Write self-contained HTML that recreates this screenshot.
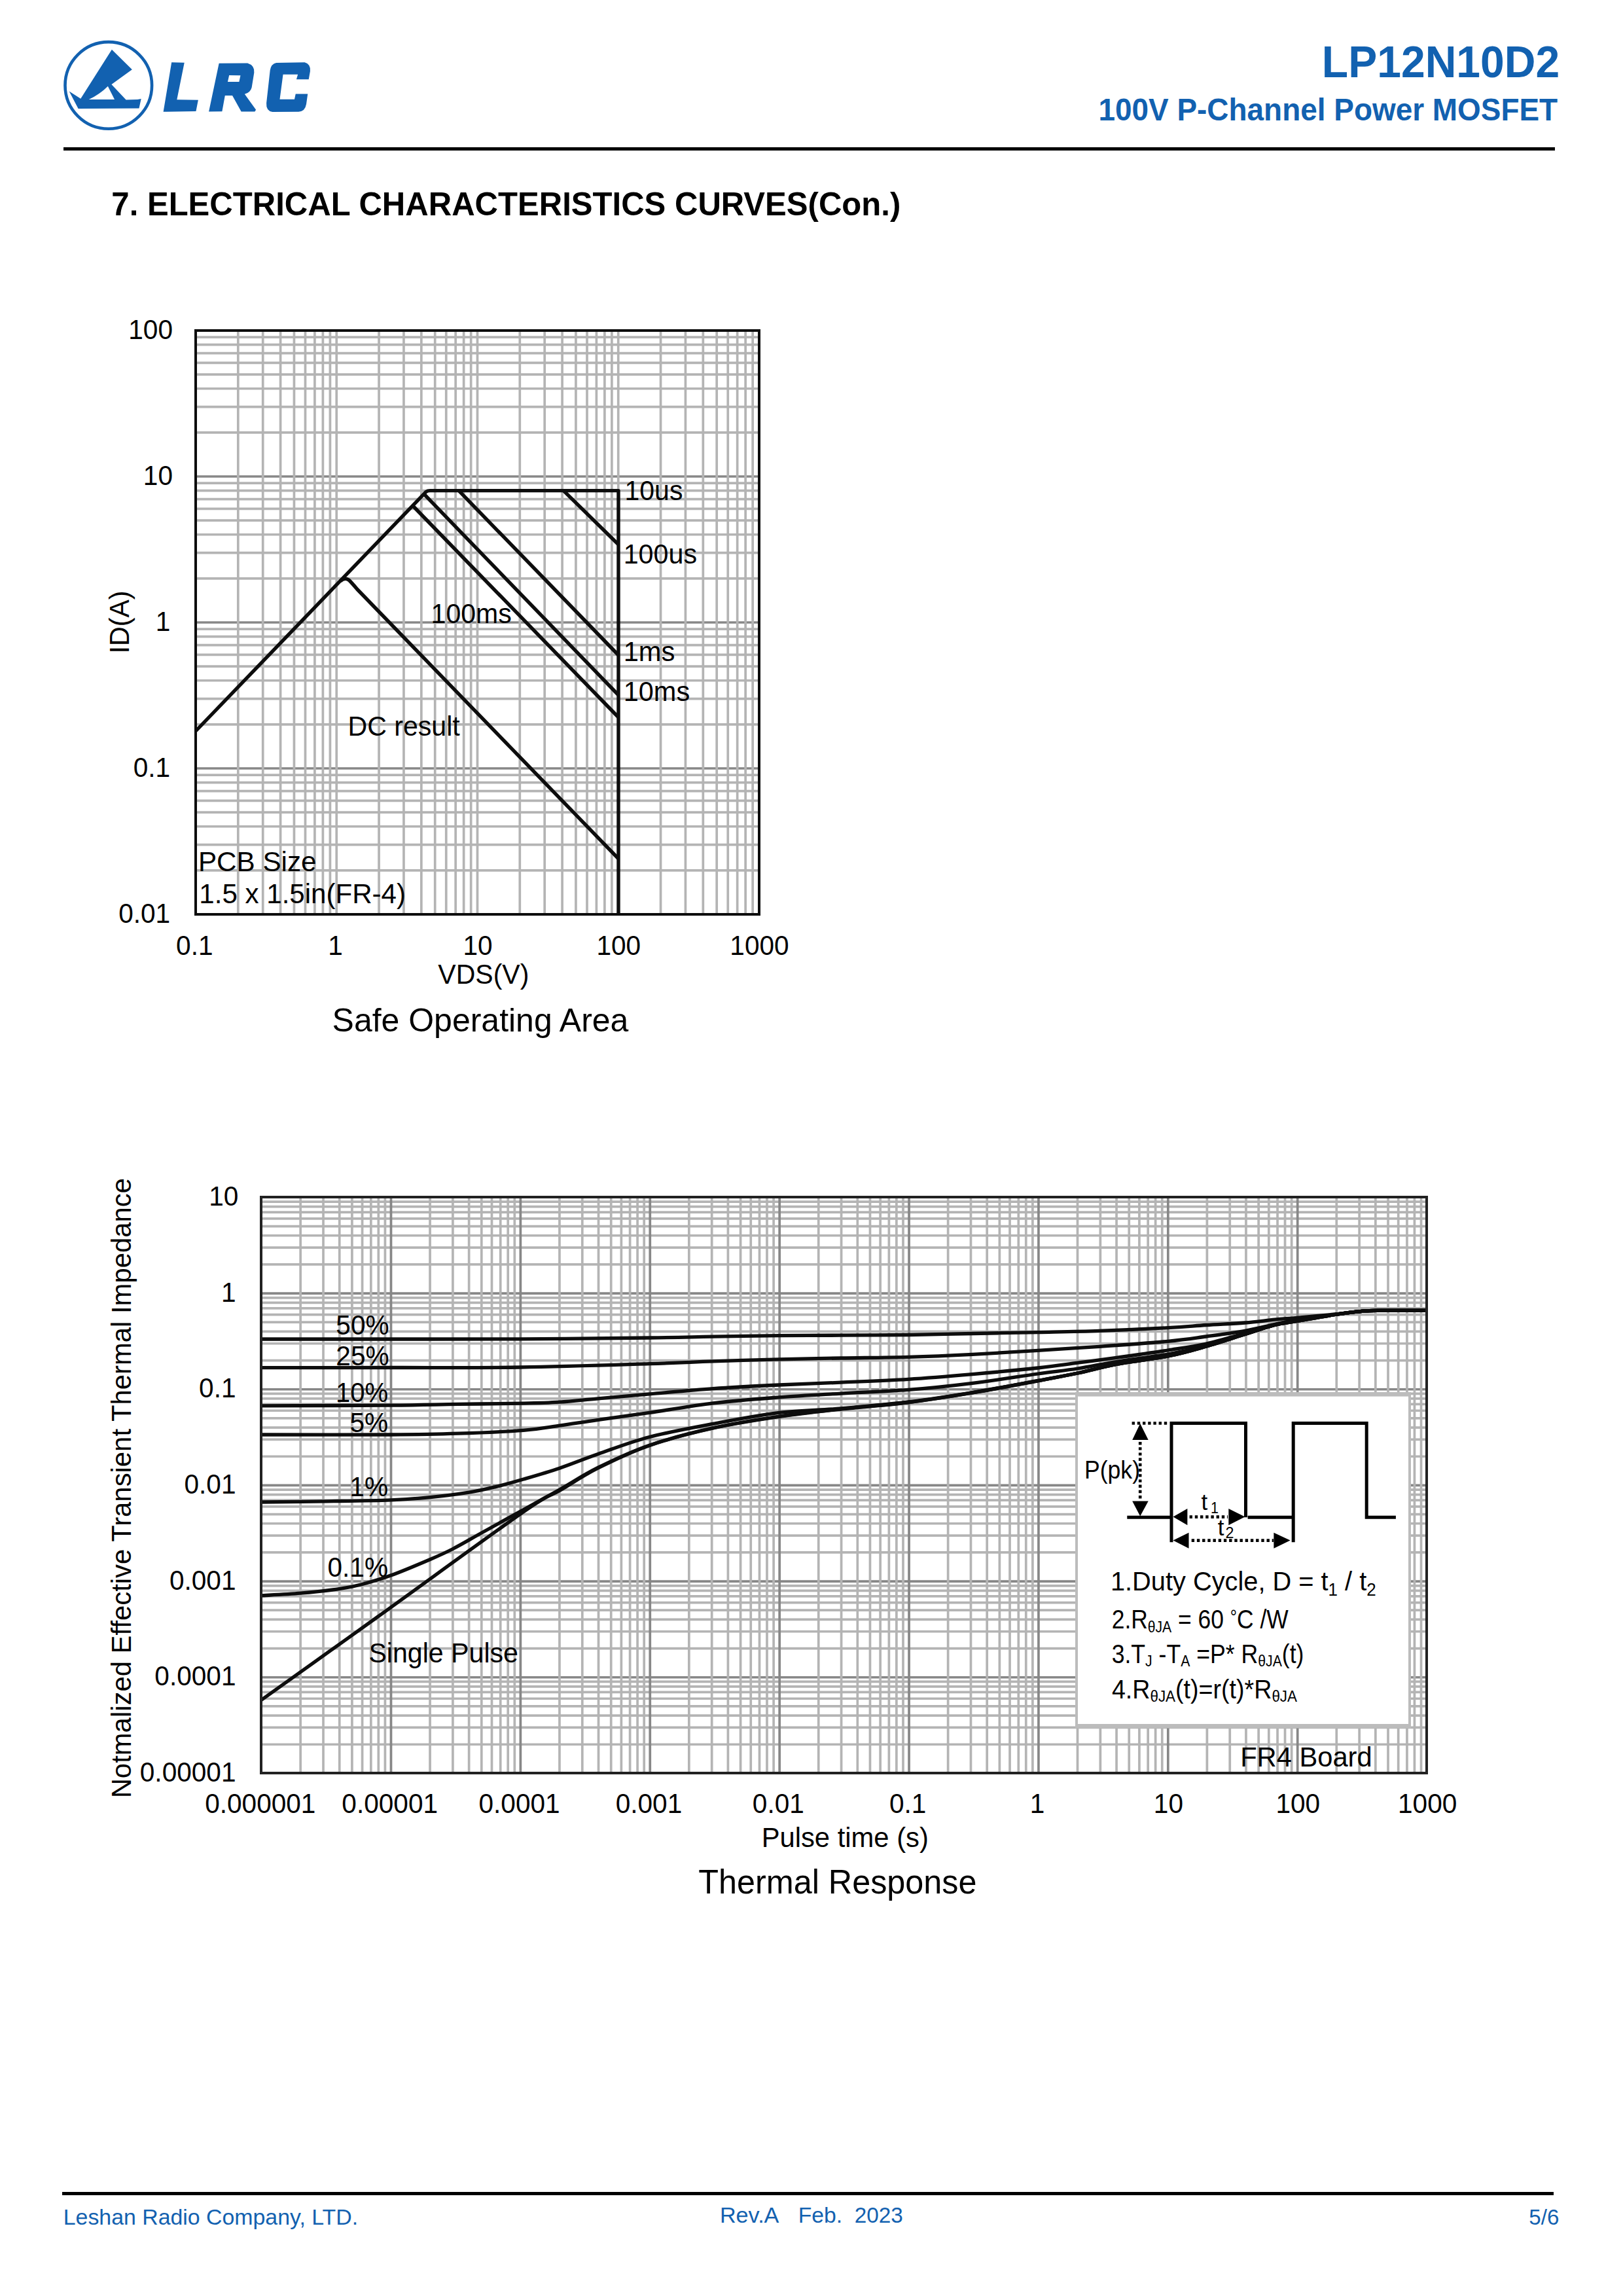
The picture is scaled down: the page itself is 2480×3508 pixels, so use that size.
<!DOCTYPE html><html><head><meta charset="utf-8"><style>html,body{margin:0;padding:0;background:#fff;}svg{display:block;}text{font-family:"Liberation Sans",sans-serif;}</style></head><body>
<svg width="2480" height="3508" viewBox="0 0 2480 3508">
<rect width="2480" height="3508" fill="#fff"/>
<circle cx="165.8" cy="130.4" r="66.3" fill="none" stroke="#1261b0" stroke-width="4.6"/>
<g transform="translate(90 55) scale(0.09242)" fill="#1261b0">
<path fill-rule="evenodd" d="M875 225 L1210 555 L870 800 L1110 1055 L1300 1050 L1360 1040 L1325 1195 L320 1200 L170 915 L360 1035 Z M495 1050 Q680 960 810 830 L920 1050 Z"/>
</g>
<g transform="translate(240 85) scale(0.14787)" fill="#1261b0">
<path d="M150 70 L282 72 L205 455 L425 458 L402 575 L65 580 Z"/>
<path fill-rule="evenodd" d="M640 80 L935 78 Q1008 100 1003 175 L978 330 Q965 382 905 398 L1022 560 L1010 578 L870 578 L778 412 L702 412 L672 576 L535 578 Z M745 203 L862 205 L848 270 L730 270 Z"/>
<path d="M1232 75 L1525 70 Q1588 88 1582 160 L1567 245 L1440 245 L1455 195 L1302 195 L1268 452 L1420 452 L1432 395 L1557 395 L1542 500 Q1530 575 1462 580 L1192 582 Q1125 570 1130 490 L1168 150 Q1180 85 1232 75 Z"/>
</g>
<rect x="97" y="225" width="2279" height="5" fill="#000"/>
<g stroke-width="3.7" fill="none"><path d="M299 1329.87H1160" stroke="#b4b4b4"/><path d="M299 1290.6H1160" stroke="#b4b4b4"/><path d="M299 1262.74H1160" stroke="#b4b4b4"/><path d="M299 1241.13H1160" stroke="#b4b4b4"/><path d="M299 1223.47H1160" stroke="#b4b4b4"/><path d="M299 1208.54H1160" stroke="#b4b4b4"/><path d="M299 1195.61H1160" stroke="#b4b4b4"/><path d="M299 1184.2H1160" stroke="#b4b4b4"/><path d="M299 1174H1160" stroke="#878787"/><path d="M299 1106.87H1160" stroke="#b4b4b4"/><path d="M299 1067.6H1160" stroke="#b4b4b4"/><path d="M299 1039.74H1160" stroke="#b4b4b4"/><path d="M299 1018.13H1160" stroke="#b4b4b4"/><path d="M299 1000.47H1160" stroke="#b4b4b4"/><path d="M299 985.54H1160" stroke="#b4b4b4"/><path d="M299 972.61H1160" stroke="#b4b4b4"/><path d="M299 961.2H1160" stroke="#b4b4b4"/><path d="M299 951H1160" stroke="#878787"/><path d="M299 883.87H1160" stroke="#b4b4b4"/><path d="M299 844.6H1160" stroke="#b4b4b4"/><path d="M299 816.74H1160" stroke="#b4b4b4"/><path d="M299 795.13H1160" stroke="#b4b4b4"/><path d="M299 777.47H1160" stroke="#b4b4b4"/><path d="M299 762.54H1160" stroke="#b4b4b4"/><path d="M299 749.61H1160" stroke="#b4b4b4"/><path d="M299 738.2H1160" stroke="#b4b4b4"/><path d="M299 728H1160" stroke="#878787"/><path d="M299 660.87H1160" stroke="#b4b4b4"/><path d="M299 621.6H1160" stroke="#b4b4b4"/><path d="M299 593.74H1160" stroke="#b4b4b4"/><path d="M299 572.13H1160" stroke="#b4b4b4"/><path d="M299 554.47H1160" stroke="#b4b4b4"/><path d="M299 539.54H1160" stroke="#b4b4b4"/><path d="M299 526.61H1160" stroke="#b4b4b4"/><path d="M299 515.2H1160" stroke="#b4b4b4"/></g>
<g stroke-width="3.7" stroke="#b4b4b4" fill="none"><path d="M363.8 505V1397"/><path d="M401.7 505V1397"/><path d="M428.59 505V1397"/><path d="M449.45 505V1397"/><path d="M466.5 505V1397"/><path d="M480.91 505V1397"/><path d="M493.39 505V1397"/><path d="M504.4 505V1397"/><path d="M514.25 505V1397"/><path d="M579.05 505V1397"/><path d="M616.95 505V1397"/><path d="M643.84 505V1397"/><path d="M664.7 505V1397"/><path d="M681.75 505V1397"/><path d="M696.16 505V1397"/><path d="M708.64 505V1397"/><path d="M719.65 505V1397"/><path d="M729.5 505V1397"/><path d="M794.3 505V1397"/><path d="M832.2 505V1397"/><path d="M859.09 505V1397"/><path d="M879.95 505V1397"/><path d="M897 505V1397"/><path d="M911.41 505V1397"/><path d="M923.89 505V1397"/><path d="M934.9 505V1397"/><path d="M944.75 505V1397"/><path d="M1009.55 505V1397"/><path d="M1047.45 505V1397"/><path d="M1074.34 505V1397"/><path d="M1095.2 505V1397"/><path d="M1112.25 505V1397"/><path d="M1126.66 505V1397"/><path d="M1139.14 505V1397"/><path d="M1150.15 505V1397"/></g>
<rect x="299" y="505" width="861" height="892" fill="none" stroke="#0d0d0d" stroke-width="4"/>
<path fill="none" stroke="#0d0d0d" stroke-width="5.4" stroke-linejoin="round" d="M299 1117 L651 751.4 Q653.5 749.6 657 749.6 L945 749.6 L945 1397"/>
<path fill="none" stroke="#0d0d0d" stroke-width="5.4" stroke-linejoin="round" d="M861 749.6 L945 832"/>
<path fill="none" stroke="#0d0d0d" stroke-width="5.4" stroke-linejoin="round" d="M701 749.6 L945 1001"/>
<path fill="none" stroke="#0d0d0d" stroke-width="5.4" stroke-linejoin="round" d="M649 756 L945 1062"/>
<path fill="none" stroke="#0d0d0d" stroke-width="5.4" stroke-linejoin="round" d="M632 774 L945 1096"/>
<path fill="none" stroke="#0d0d0d" stroke-width="5.4" stroke-linejoin="round" d="M520 888 Q527 881.5 533.5 886.5 Q538 891 546 900.5 L945 1312"/>
<g stroke-width="3.7" fill="none"><path d="M399 2665.25H2180" stroke="#b4b4b4"/><path d="M399 2639.42H2180" stroke="#b4b4b4"/><path d="M399 2621.1H2180" stroke="#b4b4b4"/><path d="M399 2606.88H2180" stroke="#b4b4b4"/><path d="M399 2595.27H2180" stroke="#b4b4b4"/><path d="M399 2585.45H2180" stroke="#b4b4b4"/><path d="M399 2576.95H2180" stroke="#b4b4b4"/><path d="M399 2569.44H2180" stroke="#b4b4b4"/><path d="M399 2562.73H2180" stroke="#878787"/><path d="M399 2518.58H2180" stroke="#b4b4b4"/><path d="M399 2492.76H2180" stroke="#b4b4b4"/><path d="M399 2474.43H2180" stroke="#b4b4b4"/><path d="M399 2460.22H2180" stroke="#b4b4b4"/><path d="M399 2448.6H2180" stroke="#b4b4b4"/><path d="M399 2438.79H2180" stroke="#b4b4b4"/><path d="M399 2430.28H2180" stroke="#b4b4b4"/><path d="M399 2422.78H2180" stroke="#b4b4b4"/><path d="M399 2416.07H2180" stroke="#878787"/><path d="M399 2371.92H2180" stroke="#b4b4b4"/><path d="M399 2346.09H2180" stroke="#b4b4b4"/><path d="M399 2327.76H2180" stroke="#b4b4b4"/><path d="M399 2313.55H2180" stroke="#b4b4b4"/><path d="M399 2301.94H2180" stroke="#b4b4b4"/><path d="M399 2292.12H2180" stroke="#b4b4b4"/><path d="M399 2283.61H2180" stroke="#b4b4b4"/><path d="M399 2276.11H2180" stroke="#b4b4b4"/><path d="M399 2269.4H2180" stroke="#878787"/><path d="M399 2225.25H2180" stroke="#b4b4b4"/><path d="M399 2199.42H2180" stroke="#b4b4b4"/><path d="M399 2181.1H2180" stroke="#b4b4b4"/><path d="M399 2166.88H2180" stroke="#b4b4b4"/><path d="M399 2155.27H2180" stroke="#b4b4b4"/><path d="M399 2145.45H2180" stroke="#b4b4b4"/><path d="M399 2136.95H2180" stroke="#b4b4b4"/><path d="M399 2129.44H2180" stroke="#b4b4b4"/><path d="M399 2122.73H2180" stroke="#878787"/><path d="M399 2078.58H2180" stroke="#b4b4b4"/><path d="M399 2052.76H2180" stroke="#b4b4b4"/><path d="M399 2034.43H2180" stroke="#b4b4b4"/><path d="M399 2020.22H2180" stroke="#b4b4b4"/><path d="M399 2008.6H2180" stroke="#b4b4b4"/><path d="M399 1998.79H2180" stroke="#b4b4b4"/><path d="M399 1990.28H2180" stroke="#b4b4b4"/><path d="M399 1982.78H2180" stroke="#b4b4b4"/><path d="M399 1976.07H2180" stroke="#878787"/><path d="M399 1931.92H2180" stroke="#b4b4b4"/><path d="M399 1906.09H2180" stroke="#b4b4b4"/><path d="M399 1887.76H2180" stroke="#b4b4b4"/><path d="M399 1873.55H2180" stroke="#b4b4b4"/><path d="M399 1861.94H2180" stroke="#b4b4b4"/><path d="M399 1852.12H2180" stroke="#b4b4b4"/><path d="M399 1843.61H2180" stroke="#b4b4b4"/><path d="M399 1836.11H2180" stroke="#b4b4b4"/></g>
<g stroke-width="3.7" fill="none"><path d="M459.17 1829V2709" stroke="#b4b4b4"/><path d="M494.02 1829V2709" stroke="#b4b4b4"/><path d="M518.74 1829V2709" stroke="#b4b4b4"/><path d="M537.92 1829V2709" stroke="#b4b4b4"/><path d="M553.59 1829V2709" stroke="#b4b4b4"/><path d="M566.84 1829V2709" stroke="#b4b4b4"/><path d="M578.31 1829V2709" stroke="#b4b4b4"/><path d="M588.43 1829V2709" stroke="#b4b4b4"/><path d="M597.49 1829V2709" stroke="#878787"/><path d="M657.06 1829V2709" stroke="#b4b4b4"/><path d="M691.91 1829V2709" stroke="#b4b4b4"/><path d="M716.63 1829V2709" stroke="#b4b4b4"/><path d="M735.81 1829V2709" stroke="#b4b4b4"/><path d="M751.48 1829V2709" stroke="#b4b4b4"/><path d="M764.72 1829V2709" stroke="#b4b4b4"/><path d="M776.2 1829V2709" stroke="#b4b4b4"/><path d="M786.32 1829V2709" stroke="#b4b4b4"/><path d="M795.38 1829V2709" stroke="#878787"/><path d="M854.95 1829V2709" stroke="#b4b4b4"/><path d="M889.79 1829V2709" stroke="#b4b4b4"/><path d="M914.52 1829V2709" stroke="#b4b4b4"/><path d="M933.7 1829V2709" stroke="#b4b4b4"/><path d="M949.37 1829V2709" stroke="#b4b4b4"/><path d="M962.61 1829V2709" stroke="#b4b4b4"/><path d="M974.09 1829V2709" stroke="#b4b4b4"/><path d="M984.21 1829V2709" stroke="#b4b4b4"/><path d="M993.27 1829V2709" stroke="#878787"/><path d="M1052.84 1829V2709" stroke="#b4b4b4"/><path d="M1087.68 1829V2709" stroke="#b4b4b4"/><path d="M1112.41 1829V2709" stroke="#b4b4b4"/><path d="M1131.59 1829V2709" stroke="#b4b4b4"/><path d="M1147.25 1829V2709" stroke="#b4b4b4"/><path d="M1160.5 1829V2709" stroke="#b4b4b4"/><path d="M1171.98 1829V2709" stroke="#b4b4b4"/><path d="M1182.1 1829V2709" stroke="#b4b4b4"/><path d="M1191.16 1829V2709" stroke="#878787"/><path d="M1250.73 1829V2709" stroke="#b4b4b4"/><path d="M1285.57 1829V2709" stroke="#b4b4b4"/><path d="M1310.3 1829V2709" stroke="#b4b4b4"/><path d="M1329.47 1829V2709" stroke="#b4b4b4"/><path d="M1345.14 1829V2709" stroke="#b4b4b4"/><path d="M1358.39 1829V2709" stroke="#b4b4b4"/><path d="M1369.87 1829V2709" stroke="#b4b4b4"/><path d="M1379.99 1829V2709" stroke="#b4b4b4"/><path d="M1389.04 1829V2709" stroke="#878787"/><path d="M1448.61 1829V2709" stroke="#b4b4b4"/><path d="M1483.46 1829V2709" stroke="#b4b4b4"/><path d="M1508.19 1829V2709" stroke="#b4b4b4"/><path d="M1527.36 1829V2709" stroke="#b4b4b4"/><path d="M1543.03 1829V2709" stroke="#b4b4b4"/><path d="M1556.28 1829V2709" stroke="#b4b4b4"/><path d="M1567.76 1829V2709" stroke="#b4b4b4"/><path d="M1577.88 1829V2709" stroke="#b4b4b4"/><path d="M1586.93 1829V2709" stroke="#878787"/><path d="M1646.5 1829V2709" stroke="#b4b4b4"/><path d="M1681.35 1829V2709" stroke="#b4b4b4"/><path d="M1706.07 1829V2709" stroke="#b4b4b4"/><path d="M1725.25 1829V2709" stroke="#b4b4b4"/><path d="M1740.92 1829V2709" stroke="#b4b4b4"/><path d="M1754.17 1829V2709" stroke="#b4b4b4"/><path d="M1765.64 1829V2709" stroke="#b4b4b4"/><path d="M1775.77 1829V2709" stroke="#b4b4b4"/><path d="M1784.82 1829V2709" stroke="#878787"/><path d="M1844.39 1829V2709" stroke="#b4b4b4"/><path d="M1879.24 1829V2709" stroke="#b4b4b4"/><path d="M1903.96 1829V2709" stroke="#b4b4b4"/><path d="M1923.14 1829V2709" stroke="#b4b4b4"/><path d="M1938.81 1829V2709" stroke="#b4b4b4"/><path d="M1952.06 1829V2709" stroke="#b4b4b4"/><path d="M1963.53 1829V2709" stroke="#b4b4b4"/><path d="M1973.66 1829V2709" stroke="#b4b4b4"/><path d="M1982.71 1829V2709" stroke="#878787"/><path d="M2042.28 1829V2709" stroke="#b4b4b4"/><path d="M2077.13 1829V2709" stroke="#b4b4b4"/><path d="M2101.85 1829V2709" stroke="#b4b4b4"/><path d="M2121.03 1829V2709" stroke="#b4b4b4"/><path d="M2136.7 1829V2709" stroke="#b4b4b4"/><path d="M2149.95 1829V2709" stroke="#b4b4b4"/><path d="M2161.42 1829V2709" stroke="#b4b4b4"/><path d="M2171.55 1829V2709" stroke="#b4b4b4"/></g>
<path fill="none" stroke="#0d0d0d" stroke-width="5.3" stroke-linejoin="round" d="M399 2046 C432 2046 531 2046.03 597 2046 C663 2045.97 729.08 2046.13 795 2045.8 C860.92 2045.47 943.37 2044.6 992.5 2044 C1041.63 2043.4 1056.75 2042.75 1089.8 2042.2 C1122.85 2041.65 1158.27 2041.03 1190.8 2040.7 C1223.33 2040.37 1252.15 2040.4 1285 2040.2 C1317.85 2040 1354.4 2039.95 1387.9 2039.5 C1421.4 2039.05 1452.98 2038.15 1486 2037.5 C1519.02 2036.85 1553.67 2036.28 1586 2035.6 C1618.33 2034.92 1646.88 2034.55 1680 2033.4 C1713.12 2032.25 1757.48 2030.18 1784.7 2028.7 C1811.92 2027.22 1823.67 2025.78 1843.3 2024.5 C1862.93 2023.22 1885.15 2022.38 1902.5 2021 C1919.85 2019.62 1934.15 2017.48 1947.4 2016.2 C1960.65 2014.92 1966.57 2014.67 1982 2013.3 C1997.43 2011.93 2024.33 2009.58 2040 2008 C2055.67 2006.42 2063.67 2004.77 2076 2003.8 C2088.33 2002.83 2096.67 2002.5 2114 2002.2 C2131.33 2001.9 2169 2002.03 2180 2002"/>
<path fill="none" stroke="#0d0d0d" stroke-width="5.3" stroke-linejoin="round" d="M399 2089.7 C432 2089.67 531 2089.62 597 2089.5 C663 2089.38 729.08 2089.97 795 2089 C860.92 2088.03 943.37 2085.22 992.5 2083.7 C1041.63 2082.18 1056.75 2081.05 1089.8 2079.9 C1122.85 2078.75 1158.27 2077.62 1190.8 2076.8 C1223.33 2075.98 1252.15 2075.58 1285 2075 C1317.85 2074.42 1354.4 2074.25 1387.9 2073.3 C1421.4 2072.35 1452.98 2070.97 1486 2069.3 C1519.02 2067.63 1553.67 2065.3 1586 2063.3 C1618.33 2061.3 1646.88 2059.63 1680 2057.3 C1713.12 2054.97 1757.48 2051.85 1784.7 2049.3 C1811.92 2046.75 1823.67 2044.65 1843.3 2042 C1862.93 2039.35 1885.15 2036.48 1902.5 2033.4 C1919.85 2030.32 1934.15 2026.32 1947.4 2023.5 C1960.65 2020.68 1966.57 2019.03 1982 2016.5 C1997.43 2013.97 2024.33 2010.42 2040 2008.3 C2055.67 2006.18 2063.67 2004.82 2076 2003.8 C2088.33 2002.78 2096.67 2002.5 2114 2002.2 C2131.33 2001.9 2169 2002.03 2180 2002"/>
<path fill="none" stroke="#0d0d0d" stroke-width="5.3" stroke-linejoin="round" d="M399 2147.8 C432 2147.68 546.83 2147.5 597 2147.1 C647.17 2146.7 666.17 2145.88 700 2145.4 C733.83 2144.92 774.17 2144.73 800 2144.2 C825.83 2143.67 836 2143.43 855 2142.2 C874 2140.97 891.08 2138.85 914 2136.8 C936.92 2134.75 963.2 2132.43 992.5 2129.9 C1021.8 2127.37 1056.75 2123.92 1089.8 2121.6 C1122.85 2119.28 1158.27 2117.57 1190.8 2116 C1223.33 2114.43 1252.15 2113.65 1285 2112.2 C1317.85 2110.75 1354.4 2109.4 1387.9 2107.3 C1421.4 2105.2 1452.98 2102.48 1486 2099.6 C1519.02 2096.72 1559.23 2092.9 1586 2090 C1612.77 2087.1 1626.63 2084.8 1646.6 2082.2 C1666.57 2079.6 1682.78 2077.6 1705.8 2074.4 C1728.82 2071.2 1761.78 2066.57 1784.7 2063 C1807.62 2059.43 1823.67 2057.33 1843.3 2053 C1862.93 2048.67 1885.15 2041.83 1902.5 2037 C1919.85 2032.17 1934.15 2027.25 1947.4 2024 C1960.65 2020.75 1966.57 2020.08 1982 2017.5 C1997.43 2014.92 2024.33 2010.78 2040 2008.5 C2055.67 2006.22 2063.67 2004.85 2076 2003.8 C2088.33 2002.75 2096.67 2002.5 2114 2002.2 C2131.33 2001.9 2169 2002.03 2180 2002"/>
<path fill="none" stroke="#0d0d0d" stroke-width="5.3" stroke-linejoin="round" d="M399 2192 C432 2192 546.83 2192.3 597 2192 C647.17 2191.7 666.17 2191.32 700 2190.2 C733.83 2189.08 774.17 2187.3 800 2185.3 C825.83 2183.3 836 2180.87 855 2178.2 C874 2175.53 891.08 2172.6 914 2169.3 C936.92 2166 963.2 2162.65 992.5 2158.4 C1021.8 2154.15 1056.75 2147.72 1089.8 2143.8 C1122.85 2139.88 1158.27 2137.35 1190.8 2134.9 C1223.33 2132.45 1252.15 2131.02 1285 2129.1 C1317.85 2127.18 1354.4 2126.03 1387.9 2123.4 C1421.4 2120.77 1452.98 2117.37 1486 2113.3 C1519.02 2109.23 1559.23 2102.72 1586 2099 C1612.77 2095.28 1626.63 2094.08 1646.6 2091 C1666.57 2087.92 1682.78 2084.17 1705.8 2080.5 C1728.82 2076.83 1761.78 2073.08 1784.7 2069 C1807.62 2064.92 1823.67 2061.17 1843.3 2056 C1862.93 2050.83 1885.15 2043.25 1902.5 2038 C1919.85 2032.75 1934.15 2027.83 1947.4 2024.5 C1960.65 2021.17 1966.57 2020.67 1982 2018 C1997.43 2015.33 2024.33 2010.87 2040 2008.5 C2055.67 2006.13 2063.67 2004.85 2076 2003.8 C2088.33 2002.75 2096.67 2002.5 2114 2002.2 C2131.33 2001.9 2169 2002.03 2180 2002"/>
<path fill="none" stroke="#0d0d0d" stroke-width="5.3" stroke-linejoin="round" d="M399 2295 C415.6 2294.8 465.57 2294.33 498.6 2293.8 C531.63 2293.27 570.72 2292.83 597.2 2291.8 C623.68 2290.77 637.58 2289.53 657.5 2287.6 C677.42 2285.67 700.05 2282.87 716.7 2280.2 C733.35 2277.53 743.52 2274.97 757.4 2271.6 C771.28 2268.23 783.73 2264.73 800 2260 C816.27 2255.27 836 2249.62 855 2243.2 C874 2236.78 891.08 2229.45 914 2221.5 C936.92 2213.55 963.2 2203.18 992.5 2195.5 C1021.8 2187.82 1056.75 2181.58 1089.8 2175.4 C1122.85 2169.22 1158.27 2162.3 1190.8 2158.4 C1223.33 2154.5 1252.15 2154.73 1285 2152 C1317.85 2149.27 1354.4 2146.08 1387.9 2142 C1421.4 2137.92 1452.98 2132.93 1486 2127.5 C1519.02 2122.07 1559.23 2114.32 1586 2109.4 C1612.77 2104.48 1626.63 2102.15 1646.6 2098 C1666.57 2093.85 1682.78 2088.83 1705.8 2084.5 C1728.82 2080.17 1761.78 2076.58 1784.7 2072 C1807.62 2067.42 1823.67 2062.58 1843.3 2057 C1862.93 2051.42 1885.15 2043.92 1902.5 2038.5 C1919.85 2033.08 1934.15 2027.83 1947.4 2024.5 C1960.65 2021.17 1966.57 2021.17 1982 2018.5 C1997.43 2015.83 2024.33 2010.95 2040 2008.5 C2055.67 2006.05 2063.67 2004.85 2076 2003.8 C2088.33 2002.75 2096.67 2002.5 2114 2002.2 C2131.33 2001.9 2169 2002.03 2180 2002"/>
<path fill="none" stroke="#0d0d0d" stroke-width="5.3" stroke-linejoin="round" d="M399 2437.9 C409.03 2437.28 439.32 2435.92 459.2 2434.2 C479.08 2432.48 502.7 2429.85 518.3 2427.6 C533.9 2425.35 539.65 2424.12 552.8 2420.7 C565.95 2417.28 579.75 2413.47 597.2 2407.1 C614.65 2400.73 641.7 2389.27 657.5 2382.5 C673.3 2375.73 678.85 2373.28 692 2366.5 C705.15 2359.72 718.4 2351.8 736.4 2341.8 C754.4 2331.8 780.23 2317.47 800 2306.5 C819.77 2295.53 836 2286.72 855 2276 C874 2265.28 891.08 2253.5 914 2242.2 C936.92 2230.9 963.2 2218.28 992.5 2208.2 C1021.8 2198.12 1056.75 2189.07 1089.8 2181.7 C1122.85 2174.33 1158.27 2168.85 1190.8 2164 C1223.33 2159.15 1252.15 2156.18 1285 2152.6 C1317.85 2149.02 1354.4 2146.63 1387.9 2142.5 C1421.4 2138.37 1452.98 2133.28 1486 2127.8 C1519.02 2122.32 1559.23 2114.57 1586 2109.6 C1612.77 2104.63 1626.63 2102.18 1646.6 2098 C1666.57 2093.82 1682.78 2088.83 1705.8 2084.5 C1728.82 2080.17 1761.78 2076.58 1784.7 2072 C1807.62 2067.42 1823.67 2062.58 1843.3 2057 C1862.93 2051.42 1885.15 2043.92 1902.5 2038.5 C1919.85 2033.08 1934.15 2027.83 1947.4 2024.5 C1960.65 2021.17 1966.57 2021.17 1982 2018.5 C1997.43 2015.83 2024.33 2010.95 2040 2008.5 C2055.67 2006.05 2063.67 2004.85 2076 2003.8 C2088.33 2002.75 2096.67 2002.5 2114 2002.2 C2131.33 2001.9 2169 2002.03 2180 2002"/>
<path fill="none" stroke="#0d0d0d" stroke-width="5.3" stroke-linejoin="round" d="M399 2597.7 C428.75 2576.42 510.67 2517.98 577.5 2470 C644.33 2422.02 753.75 2341.88 800 2309.8 C846.25 2277.72 836 2288.63 855 2277.5 C874 2266.37 891.08 2254.5 914 2243 C936.92 2231.5 963.2 2218.67 992.5 2208.5 C1021.8 2198.33 1056.75 2189.33 1089.8 2182 C1122.85 2174.67 1158.27 2169.33 1190.8 2164.5 C1223.33 2159.67 1252.15 2156.62 1285 2153 C1317.85 2149.38 1354.4 2146.97 1387.9 2142.8 C1421.4 2138.63 1452.98 2133.5 1486 2128 C1519.02 2122.5 1559.23 2114.8 1586 2109.8 C1612.77 2104.8 1626.63 2102.22 1646.6 2098 C1666.57 2093.78 1682.78 2088.83 1705.8 2084.5 C1728.82 2080.17 1761.78 2076.58 1784.7 2072 C1807.62 2067.42 1823.67 2062.58 1843.3 2057 C1862.93 2051.42 1885.15 2043.92 1902.5 2038.5 C1919.85 2033.08 1934.15 2027.83 1947.4 2024.5 C1960.65 2021.17 1966.57 2021.17 1982 2018.5 C1997.43 2015.83 2024.33 2010.95 2040 2008.5 C2055.67 2006.05 2063.67 2004.85 2076 2003.8 C2088.33 2002.75 2096.67 2002.5 2114 2002.2 C2131.33 2001.9 2169 2002.03 2180 2002"/>
<rect x="399" y="1829" width="1781" height="880" fill="none" stroke="#222" stroke-width="4"/>
<rect x="1643" y="2127" width="513" height="513.5" fill="#bcbcbc"/>
<rect x="1647" y="2133.6" width="505" height="500.4" fill="#fff"/>
<path fill="none" stroke="#000" stroke-width="5" stroke-linecap="butt" d="M1722.3 2318.2 H1790 M1790 2356.3 V2174.5 H1903.5 V2318.2 M1906.6 2318.2 H1976.2 M1976.2 2356.3 V2174.5 H2088.2 V2318.2 H2132.9"/>
<path fill="none" stroke="#000" stroke-width="4.6" stroke-dasharray="4.4 3.8" d="M1729.6 2174.5 H1787"/>
<path fill="none" stroke="#000" stroke-width="4.6" stroke-dasharray="4.4 3.8" d="M1742.2 2203 V2292"/>
<path fill="none" stroke="#000" stroke-width="4.6" stroke-dasharray="4.4 3.8" d="M1817.6 2317.6 H1876"/>
<path fill="none" stroke="#000" stroke-width="4.6" stroke-dasharray="4.4 3.8" d="M1820.7 2353.6 H1946"/>
<path fill="#000" d="M1742.2 2175.1 L1754.7 2199.9 L1730.2 2199.9 Z"/>
<path fill="#000" d="M1742.2 2316.5 L1754.7 2293.5 L1730.2 2293.5 Z"/>
<path fill="#000" d="M1792.5 2317.6 L1814.4 2305 L1814.4 2330.2 Z"/>
<path fill="#000" d="M1902.4 2317.6 L1877.3 2305 L1877.3 2330.2 Z"/>
<path fill="#000" d="M1792.5 2353.6 L1816.5 2341.7 L1816.5 2365.8 Z"/>
<path fill="#000" d="M1971.6 2353.6 L1946.4 2341.7 L1946.4 2365.8 Z"/>
<text x="1657" y="2258.9" font-size="38" textLength="85" lengthAdjust="spacingAndGlyphs">P(pk)</text>
<text x="1835.5" y="2307.1" font-size="35" textLength="12">t</text><text x="1850" y="2312.4" font-size="23" textLength="12" lengthAdjust="spacingAndGlyphs">1</text>
<text x="1860.7" y="2345.9" font-size="35" textLength="12">t</text><text x="1872.5" y="2350" font-size="23" textLength="13" lengthAdjust="spacingAndGlyphs">2</text>
<text x="1696.92" y="2430.1" font-size="41.4" textLength="405.78" lengthAdjust="spacingAndGlyphs">1.Duty Cycle, D = t<tspan font-size="27" dy="7.8">1</tspan><tspan dy="-7.8"> / t</tspan><tspan font-size="27" dy="7.8">2</tspan></text>
<text x="1698.69" y="2487.8" font-size="41.4" textLength="270.07" lengthAdjust="spacingAndGlyphs">2.R<tspan font-size="24.7" dy="5.7">θJA</tspan><tspan dy="-5.7"> = 60 </tspan><tspan font-size="30" dy="-8">°</tspan><tspan dy="8">C /W</tspan></text>
<text x="1698.68" y="2540.6" font-size="41.4" textLength="293.76" lengthAdjust="spacingAndGlyphs">3.T<tspan font-size="24.7" dy="5.7">J</tspan><tspan dy="-5.7"> -T</tspan><tspan font-size="24.7" dy="5.7">A</tspan><tspan dy="-5.7"> =P* R</tspan><tspan font-size="24.7" dy="5.7">θJA</tspan><tspan dy="-5.7">(t)</tspan></text>
<text x="1698.89" y="2594.5" font-size="41.4" textLength="283.15" lengthAdjust="spacingAndGlyphs">4.R<tspan font-size="24.7" dy="5.7">θJA</tspan><tspan dy="-5.7">(t)=r(t)*R</tspan><tspan font-size="24.7" dy="5.7">θJA</tspan></text>
<text x="2019.87" y="117.9" textLength="363.37" lengthAdjust="spacingAndGlyphs" font-size="68.5" font-weight="bold" fill="#1261b0">LP12N10D2</text>
<text x="1678.43" y="183.8" textLength="701.74" lengthAdjust="spacingAndGlyphs" font-size="47.8" font-weight="bold" fill="#1261b0">100V P-Channel Power MOSFET</text>
<text x="170.37" y="329" textLength="1205.9" lengthAdjust="spacingAndGlyphs" font-size="50.6" font-weight="bold" fill="#000">7. ELECTRICAL CHARACTERISTICS CURVES(Con.)</text>
<text x="96.76" y="3399" textLength="450.3" lengthAdjust="spacingAndGlyphs" font-size="33.7" font-weight="normal" fill="#1261b0">Leshan Radio Company, LTD.</text>
<text x="1099.93" y="3395.8" textLength="90.5" lengthAdjust="spacingAndGlyphs" font-size="34" font-weight="normal" fill="#1261b0">Rev.A</text>
<text x="1219.77" y="3395.8" textLength="67.48" lengthAdjust="spacingAndGlyphs" font-size="34" font-weight="normal" fill="#1261b0">Feb.</text>
<text x="1305.74" y="3395.8" textLength="74.11" lengthAdjust="spacingAndGlyphs" font-size="34" font-weight="normal" fill="#1261b0">2023</text>
<text x="2336.37" y="3399.3" textLength="45.97" lengthAdjust="spacingAndGlyphs" font-size="33.8" font-weight="normal" fill="#1261b0">5/6</text>
<text x="196.28" y="518.3" textLength="67.72" lengthAdjust="spacingAndGlyphs" font-size="42.5" font-weight="normal" fill="#000">100</text>
<text x="218.85" y="741.3" textLength="45.15" lengthAdjust="spacingAndGlyphs" font-size="42.5" font-weight="normal" fill="#000">10</text>
<text x="237.63" y="964.3" textLength="22.57" lengthAdjust="spacingAndGlyphs" font-size="42.5" font-weight="normal" fill="#000">1</text>
<text x="203.78" y="1187.3" textLength="56.42" lengthAdjust="spacingAndGlyphs" font-size="42.5" font-weight="normal" fill="#000">0.1</text>
<text x="181.2" y="1410.3" textLength="79" lengthAdjust="spacingAndGlyphs" font-size="42.5" font-weight="normal" fill="#000">0.01</text>
<text x="269.09" y="1459.1" textLength="56.42" lengthAdjust="spacingAndGlyphs" font-size="42.5" font-weight="normal" fill="#000">0.1</text>
<text x="501.26" y="1459.1" textLength="22.57" lengthAdjust="spacingAndGlyphs" font-size="42.5" font-weight="normal" fill="#000">1</text>
<text x="707.43" y="1459.1" textLength="45.15" lengthAdjust="spacingAndGlyphs" font-size="42.5" font-weight="normal" fill="#000">10</text>
<text x="911.39" y="1459.1" textLength="67.72" lengthAdjust="spacingAndGlyphs" font-size="42.5" font-weight="normal" fill="#000">100</text>
<text x="1115.35" y="1459.1" textLength="90.29" lengthAdjust="spacingAndGlyphs" font-size="42.5" font-weight="normal" fill="#000">1000</text>
<text x="669.3" y="1502.9" textLength="139.02" lengthAdjust="spacingAndGlyphs" font-size="42.5" font-weight="normal" fill="#000">VDS(V)</text>
<text x="507.55" y="1576" textLength="452.84" lengthAdjust="spacingAndGlyphs" font-size="50" font-weight="normal" fill="#000">Safe Operating Area</text>
<text x="-3.21" y="0" transform="translate(196.8 995.2) rotate(-90)" textLength="95.94" lengthAdjust="spacingAndGlyphs" font-size="42.5" font-weight="normal" fill="#000">ID(A)</text>
<text x="954.57" y="763.9" textLength="88.81" lengthAdjust="spacingAndGlyphs" font-size="42.5" font-weight="normal" fill="#000">10us</text>
<text x="952.67" y="861" textLength="112.42" lengthAdjust="spacingAndGlyphs" font-size="42.5" font-weight="normal" fill="#000">100us</text>
<text x="952.67" y="1010.4" textLength="78.83" lengthAdjust="spacingAndGlyphs" font-size="42.5" font-weight="normal" fill="#000">1ms</text>
<text x="952.67" y="1070.6" textLength="101.53" lengthAdjust="spacingAndGlyphs" font-size="42.5" font-weight="normal" fill="#000">10ms</text>
<text x="658.57" y="951.8" textLength="123.21" lengthAdjust="spacingAndGlyphs" font-size="42.5" font-weight="normal" fill="#000">100ms</text>
<text x="531.49" y="1124.3" textLength="171.27" lengthAdjust="spacingAndGlyphs" font-size="42.5" font-weight="normal" fill="#000">DC result</text>
<text x="302.9" y="1331.4" textLength="180.71" lengthAdjust="spacingAndGlyphs" font-size="42.5" font-weight="normal" fill="#000">PCB Size</text>
<text x="304.37" y="1379.5" textLength="315.61" lengthAdjust="spacingAndGlyphs" font-size="42.5" font-weight="normal" fill="#000">1.5 x 1.5in(FR-4)</text>
<text x="319.15" y="1842" textLength="45.15" lengthAdjust="spacingAndGlyphs" font-size="42.5" font-weight="normal" fill="#000">10</text>
<text x="337.93" y="1988.67" textLength="22.57" lengthAdjust="spacingAndGlyphs" font-size="42.5" font-weight="normal" fill="#000">1</text>
<text x="304.08" y="2135.33" textLength="56.42" lengthAdjust="spacingAndGlyphs" font-size="42.5" font-weight="normal" fill="#000">0.1</text>
<text x="281.5" y="2282" textLength="79" lengthAdjust="spacingAndGlyphs" font-size="42.5" font-weight="normal" fill="#000">0.01</text>
<text x="258.93" y="2428.67" textLength="101.57" lengthAdjust="spacingAndGlyphs" font-size="42.5" font-weight="normal" fill="#000">0.001</text>
<text x="236.36" y="2575.33" textLength="124.14" lengthAdjust="spacingAndGlyphs" font-size="42.5" font-weight="normal" fill="#000">0.0001</text>
<text x="213.79" y="2722" textLength="146.71" lengthAdjust="spacingAndGlyphs" font-size="42.5" font-weight="normal" fill="#000">0.00001</text>
<text x="313.16" y="2769.6" textLength="169.29" lengthAdjust="spacingAndGlyphs" font-size="42.5" font-weight="normal" fill="#000">0.000001</text>
<text x="522.33" y="2769.6" textLength="146.71" lengthAdjust="spacingAndGlyphs" font-size="42.5" font-weight="normal" fill="#000">0.00001</text>
<text x="731.51" y="2769.6" textLength="124.14" lengthAdjust="spacingAndGlyphs" font-size="42.5" font-weight="normal" fill="#000">0.0001</text>
<text x="940.68" y="2769.6" textLength="101.57" lengthAdjust="spacingAndGlyphs" font-size="42.5" font-weight="normal" fill="#000">0.001</text>
<text x="1149.86" y="2769.6" textLength="79" lengthAdjust="spacingAndGlyphs" font-size="42.5" font-weight="normal" fill="#000">0.01</text>
<text x="1359.03" y="2769.6" textLength="56.42" lengthAdjust="spacingAndGlyphs" font-size="42.5" font-weight="normal" fill="#000">0.1</text>
<text x="1573.85" y="2769.6" textLength="22.57" lengthAdjust="spacingAndGlyphs" font-size="42.5" font-weight="normal" fill="#000">1</text>
<text x="1762.85" y="2769.6" textLength="45.15" lengthAdjust="spacingAndGlyphs" font-size="42.5" font-weight="normal" fill="#000">10</text>
<text x="1949.45" y="2769.6" textLength="67.72" lengthAdjust="spacingAndGlyphs" font-size="42.5" font-weight="normal" fill="#000">100</text>
<text x="2136.05" y="2769.6" textLength="90.29" lengthAdjust="spacingAndGlyphs" font-size="42.5" font-weight="normal" fill="#000">1000</text>
<text x="1163.64" y="2821.7" textLength="255.22" lengthAdjust="spacingAndGlyphs" font-size="42.5" font-weight="normal" fill="#000">Pulse time (s)</text>
<text x="1067.21" y="2892.9" textLength="425.33" lengthAdjust="spacingAndGlyphs" font-size="51.8" font-weight="normal" fill="#000">Thermal Response</text>
<text x="-3.26" y="0" transform="translate(200.2 2744.1) rotate(-90)" textLength="947.36" lengthAdjust="spacingAndGlyphs" font-size="42.5" font-weight="normal" fill="#000">Notmalized Effective Transient Thermal Impedance</text>
<text x="513.37" y="2038.6" textLength="81.23" lengthAdjust="spacingAndGlyphs" font-size="42.5" font-weight="normal" fill="#000">50%</text>
<text x="513.37" y="2085.5" textLength="81.23" lengthAdjust="spacingAndGlyphs" font-size="42.5" font-weight="normal" fill="#000">25%</text>
<text x="512.97" y="2142.3" textLength="80.12" lengthAdjust="spacingAndGlyphs" font-size="42.5" font-weight="normal" fill="#000">10%</text>
<text x="534.45" y="2187.8" textLength="58.66" lengthAdjust="spacingAndGlyphs" font-size="42.5" font-weight="normal" fill="#000">5%</text>
<text x="534.37" y="2286.3" textLength="58.74" lengthAdjust="spacingAndGlyphs" font-size="42.5" font-weight="normal" fill="#000">1%</text>
<text x="500.5" y="2409.3" textLength="92.51" lengthAdjust="spacingAndGlyphs" font-size="42.5" font-weight="normal" fill="#000">0.1%</text>
<text x="563.42" y="2539.7" textLength="228.55" lengthAdjust="spacingAndGlyphs" font-size="42.5" font-weight="normal" fill="#000">Single Pulse</text>
<text x="1895.14" y="2698.9" textLength="201.5" lengthAdjust="spacingAndGlyphs" font-size="42.5" font-weight="normal" fill="#000">FR4 Board</text>
<rect x="95" y="3349" width="2279" height="5" fill="#000"/>
</svg></body></html>
